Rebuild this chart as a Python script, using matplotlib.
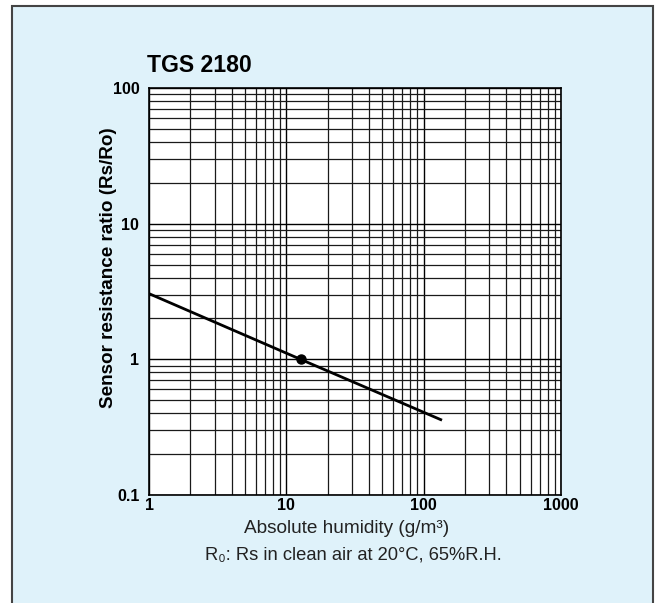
import matplotlib
matplotlib.use("Agg")
import matplotlib.pyplot as plt
from matplotlib.patches import Rectangle
from matplotlib.ticker import FixedLocator, LogLocator, NullFormatter

# DATA
humidity = [1, 12.7, 136]          # g/m3
ratio = [3.05, 1.0, 0.356]         # Rs/Ro
ref_point = (12.7, 1.0)
x_ticks = [1, 10, 100, 1000]
x_tick_labels = ["1", "10", "100", "1000"]
y_ticks = [0.1, 1, 10, 100]
y_tick_labels = ["0.1", "1", "10", "100"]

W, H = 660, 603
SANS = ["Liberation Sans", "DejaVu Sans"]

fig = plt.figure(figsize=(W / 100, H / 100), dpi=100)
fig.patch.set_facecolor("white")

# light blue panel behind everything
panel = Rectangle((12 / W, -0.05), (653 - 12) / W, (H - 6) / H + 0.05,
                  transform=fig.transFigure, facecolor="#dff2fa",
                  edgecolor="#444444", lw=1.5, zorder=-10)
fig.patches.append(panel)

ax = fig.add_axes([149 / W, (H - 495) / H, (561 - 149) / W, (495 - 88) / H])
ax.set_facecolor("white")
ax.set_xscale("log")
ax.set_yscale("log")
ax.set_xlim(1, 1000)
ax.set_ylim(0.1, 100)

ax.xaxis.set_major_locator(FixedLocator(x_ticks))
ax.yaxis.set_major_locator(FixedLocator(y_ticks))
ax.xaxis.set_minor_locator(LogLocator(base=10, subs=range(2, 10)))
ax.yaxis.set_minor_locator(LogLocator(base=10, subs=range(2, 10)))
ax.xaxis.set_minor_formatter(NullFormatter())
ax.yaxis.set_minor_formatter(NullFormatter())
ax.set_xticklabels(x_tick_labels, fontfamily=SANS, fontweight="bold", fontsize=11.5)
ax.set_yticklabels(y_tick_labels, fontfamily=SANS, fontweight="bold", fontsize=11.5)
ax.tick_params(which="both", length=0)
ax.tick_params(axis="x", pad=2)
ax.tick_params(axis="y", pad=7)

ax.grid(which="major", color="black", lw=1.0)
ax.grid(which="minor", color="#1a1a1a", lw=0.9)
ax.set_axisbelow(True)
for s in ax.spines.values():
    s.set_color("black")
    s.set_linewidth(1.2)

ax.plot(humidity, ratio, color="black", lw=2.0, solid_capstyle="butt", zorder=3)
ax.plot(*ref_point, "o", color="black", ms=6.5, zorder=4)

fig.text(147 / W, (H - 72) / H, "TGS 2180", fontfamily=SANS, fontweight="bold",
         fontsize=16.6, ha="left", va="baseline")
fig.text(109 / W, (H - 268) / H, "Sensor resistance ratio (Rs/Ro)", fontfamily=SANS,
         fontweight="bold", fontsize=13.6, rotation=90, ha="center", va="center")
fig.text(347 / W, (H - 533) / H, "Absolute humidity (g/m³)", fontfamily=SANS,
         fontsize=13.7, color="#222222", ha="center", va="baseline")
fig.text(353 / W, (H - 555) / H, "R₀: Rs in clean air at 20°C, 65%R.H.", fontfamily=SANS,
         fontsize=13.2, color="#222222", ha="center", va="center")

fig.savefig("out.png", dpi=100)
